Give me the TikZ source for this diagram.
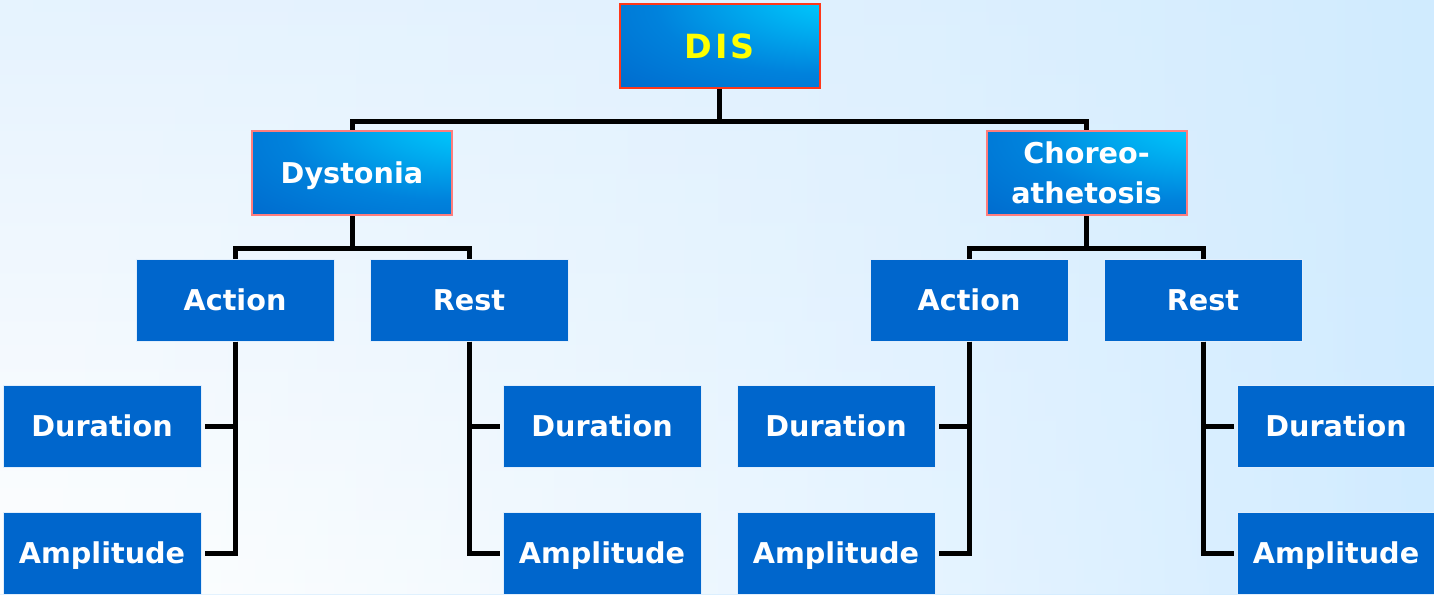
\documentclass[tikz,border=0pt]{standalone}
\usepackage{fontspec}
\setmainfont{DejaVu Sans}
\usetikzlibrary{fadings}

\definecolor{boxblue}{RGB}{0,102,204}
\definecolor{boxedge}{RGB}{225,238,252}
\definecolor{glowcyan}{RGB}{0,206,255}
\definecolor{glowmid}{RGB}{0,130,220}
\definecolor{glowblue}{RGB}{0,94,198}
\definecolor{disedge}{RGB}{255,55,25}
\definecolor{subedge}{RGB}{255,125,125}
\definecolor{disyellow}{RGB}{255,255,0}
\definecolor{bgmid}{RGB}{230,243,254}
\definecolor{bgright}{RGB}{208,235,255}

\pgfdeclareradialshading{boxglow}{\pgfpoint{40bp}{40bp}}{color(0bp)=(glowcyan); color(10bp)=(glowcyan); color(40bp)=(glowmid); color(70bp)=(glowblue); color(100bp)=(glowblue)}
\tikzfading[name=fadeleft, left color=transparent!0, right color=transparent!100]

\tikzset{every picture/.style={line width=0.75pt}}
\tikzset{
  leafbox/.style={draw=boxedge, fill=boxblue, text=white, minimum width=148.5pt, minimum height=61.5pt, inner sep=0.75pt, text height=15.7pt, text depth=0pt, font=\fontsize{21.5}{30}\selectfont\bfseries},
  headbox/.style={leafbox, shade, shading=boxglow, draw=subedge, line width=1.5pt, minimum width=150pt, minimum height=63pt, align=center},
  rootbox/.style={headbox, draw=disedge, text=disyellow, text height=18.2pt, font=\fontsize{25}{30}\selectfont\bfseries},
  link/.style={line width=3.75pt}
}

\begin{document}
\begin{tikzpicture}[x=0.75pt,y=0.75pt,yscale=-1,xscale=1]
	\useasboundingbox (0,0) rectangle (1434,594);
	
	%Shape: Background
	\shade [left color=bgmid, right color=bgright] (0,0) rectangle (1434,594);
	\shade [top color=bgmid, bottom color=white, path fading=fadeleft] (0,0) rectangle (1434,594);
	
	%Shape: Root
	\node [rootbox] (dis) at (719.5,46) {D\kern2pt I\kern2pt S};
	%Shape: Heads
	\node [headbox] (dys) at (352,173) {Dystonia};
	\node [headbox, text height=, text depth=] (cho) at (1086.5,173) {Choreo-\\athetosis};
	%Shape: Action / Rest
	\node [leafbox] (dysact) at (235,300) {Action};
	\node [leafbox] (dysrest) at (469,300) {Rest};
	\node [leafbox] (choact) at (969,300) {Action};
	\node [leafbox] (chorest) at (1203,300) {Rest};
	%Shape: Duration / Amplitude
	\node [leafbox] (dysactdur) at (102,426) {Duration};
	\node [leafbox] (dysactamp) at (102,553) {Amplitude};
	\node [leafbox] (dysrestdur) at (602,426) {Duration};
	\node [leafbox] (dysrestamp) at (602,553) {Amplitude};
	\node [leafbox] (choactdur) at (836,426) {Duration};
	\node [leafbox] (choactamp) at (836,553) {Amplitude};
	\node [leafbox] (chorestdur) at (1336,426) {Duration};
	\node [leafbox] (chorestamp) at (1336,553) {Amplitude};
	
	%Straight Lines: root to heads
	\draw [link] (dis.south) -- ++(0,32) -| (dys.north);
	\draw [link] (dis.south) -- ++(0,32) -| (cho.north);
	%Straight Lines: heads to action / rest
	\draw [link] (dys.south) -- ++(0,32) -| (dysact.north);
	\draw [link] (dys.south) -- ++(0,32) -| (dysrest.north);
	\draw [link] (cho.south) -- ++(0,32) -| (choact.north);
	\draw [link] (cho.south) -- ++(0,32) -| (chorest.north);
	%Straight Lines: action / rest to leaves
	\draw [link, shorten >=2.25pt] (dysact.south) |- (dysactdur.east);
	\draw [link, shorten >=2.25pt] (dysact.south) |- (dysactamp.east);
	\draw [link, shorten >=2.25pt] (dysrest.south) |- (dysrestdur.west);
	\draw [link, shorten >=2.25pt] (dysrest.south) |- (dysrestamp.west);
	\draw [link, shorten >=2.25pt] (choact.south) |- (choactdur.east);
	\draw [link, shorten >=2.25pt] (choact.south) |- (choactamp.east);
	\draw [link, shorten >=2.25pt] (chorest.south) |- (chorestdur.west);
	\draw [link, shorten >=2.25pt] (chorest.south) |- (chorestamp.west);
	
\end{tikzpicture}
\end{document}
